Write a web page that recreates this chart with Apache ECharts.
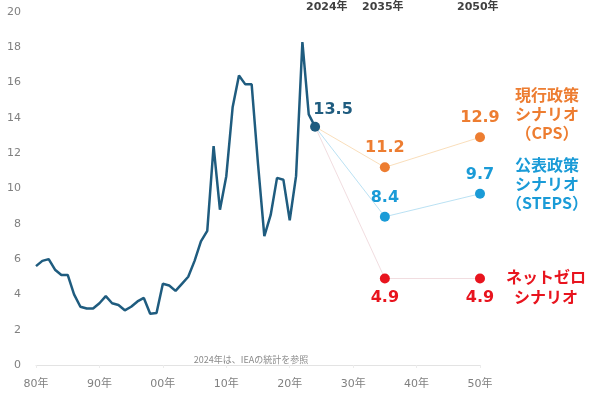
<!DOCTYPE html>
<html><head><meta charset="utf-8">
<script src="https://cdn.jsdelivr.net/npm/echarts@6/dist/echarts.min.js"></script>
<style>html,body{margin:0;padding:0;background:#fff}#c{width:600px;height:393px}</style>
</head><body><div id="c"></div>
<script>
const histYears = [1980,1981,1982,1983,1984,1985,1986,1987,1988,1989,1990,1991,1992,1993,1994,1995,1996,1997,1998,1999,2000,2001,2002,2003,2004,2005,2006,2007,2008,2009,2010,2011,2012,2013,2014,2015,2016,2017,2018,2019,2020,2021,2022,2023,2024];
const histValues = [5.6,5.9,6.0,5.4,5.1,5.1,4.0,3.3,3.2,3.2,3.5,3.9,3.5,3.4,3.1,3.3,3.6,3.8,2.9,2.95,4.6,4.5,4.2,4.6,5.0,5.9,7.0,7.6,12.4,8.8,10.7,14.6,16.4,15.9,15.9,11.4,7.3,8.5,10.6,10.5,8.2,10.7,18.3,14.2,13.5];
const scenYears = [2024,2035,2050];
const cpsValues = [13.5,11.2,12.9];
const stepsValues = [13.5,8.4,9.7];
const nzeValues = [13.5,4.9,4.9];
const yTicks = [0,2,4,6,8,10,12,14,16,18,20];
const topLabels = ['2024年','2035年','2050年'];

const FONT = '"DejaVu Sans","Noto Sans CJK JP",sans-serif';
const JFONT = '"Noto Sans CJK JP","DejaVu Sans",sans-serif';
const TEAL = '#1F5C7F', ORANGE = '#ED7D31', BLUE = '#1A9BD7', RED = '#E8141E';

function scen(name, vals, color, lineColor, pos) {
  return {
    name, type: 'line', z: 1,
    data: scenYears.map((y, i) => i === 0
      ? { value: [y, vals[i]], symbol: 'none', label: { show: false } }
      : { value: [y, vals[i]] }),
    symbol: 'circle', symbolSize: 10,
    itemStyle: { color, opacity: 1 },
    lineStyle: { color: lineColor, width: 1 },
    label: { show: true, position: pos, distance: 6, color, fontFamily: FONT, fontWeight: 'bold', fontSize: 16,
      formatter: p => p.value[1].toFixed(1) },
    emphasis: { disabled: true }, animation: false
  };
}

const chart = echarts.init(document.getElementById('c'));
chart.setOption({
  animation: false,
  grid: { left: 36, right: 120, top: 12, bottom: 28 },
  xAxis: {
    type: 'value', min: 1980, max: 2050, interval: 10,
    axisLine: { show: true, lineStyle: { color: '#e3e3e3', width: 1 } },
    axisTick: { show: true, length: 3, lineStyle: { color: '#ececec' } },
    splitLine: { show: false },
    axisLabel: { color: '#808080', fontSize: 11, fontFamily: FONT, margin: 14,
      formatter: v => String(v % 100).padStart(2, '0') + '年' }
  },
  yAxis: {
    type: 'value', min: yTicks[0], max: yTicks[yTicks.length - 1], interval: 2,
    axisLine: { show: false }, axisTick: { show: false }, splitLine: { show: false },
    axisLabel: { color: '#808080', fontSize: 11, fontFamily: FONT, margin: 15 }
  },
  series: [
    scen('CPS', cpsValues, ORANGE, 'rgba(237,160,60,0.35)', 'top'),
    scen('STEPS', stepsValues, BLUE, 'rgba(26,155,215,0.3)', 'top'),
    scen('NZE', nzeValues, RED, 'rgba(200,120,130,0.25)', 'bottom'),
    {
      name: 'hist', type: 'line', z: 3,
      data: histYears.map((y, i) => [y, histValues[i]]),
      showSymbol: false, symbol: 'none',
      lineStyle: { color: TEAL, width: 2.5 },
      emphasis: { disabled: true }
    },
    {
      name: 'now', type: 'scatter', z: 4,
      data: [[histYears[histYears.length - 1], histValues[histValues.length - 1]]],
      symbolSize: 10, itemStyle: { color: TEAL, opacity: 1 },
      label: { show: true, position: 'top', distance: 4, offset: [18, 0], color: TEAL,
        fontFamily: FONT, fontWeight: 'bold', fontSize: 16, formatter: p => p.value[1].toFixed(1) },
      emphasis: { disabled: true }
    }
  ],
  graphic: [
    { type: 'text', left: 306, top: 2, style: { text: topLabels[0], fill: '#404040', font: 'bold 11px ' + FONT } },
    { type: 'text', left: 362, top: 2, style: { text: topLabels[1], fill: '#404040', font: 'bold 11px ' + FONT } },
    { type: 'text', left: 457, top: 2, style: { text: topLabels[2], fill: '#404040', font: 'bold 11px ' + FONT } },
    { type: 'text', x: 547, y: 85, style: { text: '現行政策\nシナリオ\n（CPS）', fill: ORANGE, font: 'bold 16px ' + JFONT, align: 'center', lineHeight: 19 } },
    { type: 'text', x: 547, y: 155, style: { text: '公表政策\nシナリオ\n（STEPS）', fill: BLUE, font: 'bold 16px ' + JFONT, align: 'center', lineHeight: 19 } },
    { type: 'text', x: 546, y: 267, style: { text: 'ネットゼロ\nシナリオ', fill: RED, font: 'bold 16px ' + JFONT, align: 'center', lineHeight: 20 } },
    { type: 'text', x: 251, y: 355, style: { text: '2024年は、IEAの統計を参照', fill: '#8a8a8a', font: '9px ' + JFONT, align: 'center' } }
  ]
});
</script></body></html>
